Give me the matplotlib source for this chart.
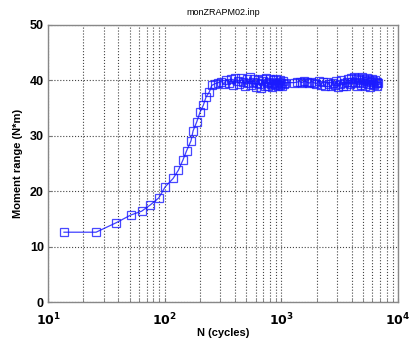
import numpy as np
import matplotlib
matplotlib.use("Agg")
import matplotlib.pyplot as plt
from matplotlib.ticker import LogLocator, FuncFormatter, NullFormatter

plt.rcParams['font.family'] = ['Liberation Sans', 'DejaVu Sans']

# cycles / moment range
cycles_rise = [13.7, 25.8, 38.3, 51.2, 63.5, 75, 89, 101, 118, 131, 143, 154,
               168, 175, 188, 201, 214, 226, 241, 253, 270, 288]
moment_rise = [12.6, 12.6, 14.3, 15.7, 16.4, 17.5, 18.8, 20.8, 22.3, 23.8, 25.6, 27.3,
               29.1, 30.9, 32.5, 34.3, 35.5, 37.0, 37.9, 39.1, 39.4, 39.6]

cycles_p1 = [305, 322, 338, 355, 371, 388, 404, 421, 437, 454, 470, 487, 503, 520,
             536, 553, 569, 586, 602, 619, 635, 652, 668, 685, 701, 718, 734, 751,
             767, 784, 800, 817, 833, 850, 866, 883, 899, 916, 932, 949, 965, 982,
             998, 1015, 1031, 1048, 1065]
moment_p1 = [39.8, 39.4, 40.1, 39.6, 40.3, 39.2, 40.5, 39.9, 39.3, 40.4, 39.7, 38.9,
             40.2, 39.5, 40.6, 39.1, 39.8, 40.3, 38.8, 39.6, 40.1, 39.4, 38.7, 40.2,
             39.9, 39.0, 40.4, 39.5, 38.9, 39.7, 40.2, 39.3, 38.8, 40.0, 39.6, 39.1,
             40.3, 39.4, 38.9, 39.8, 40.1, 39.2, 39.6, 38.9, 39.9, 39.4, 39.6]

cycles_p2 = [1290, 1360, 1430, 1500, 1570, 1650, 1730, 1810, 1900, 1990, 2080,
             2170, 2260, 2350, 2450, 2550, 2650, 2750, 2850, 2950, 3050, 3150,
             3250, 3350, 3450, 3550, 3650, 3750, 3850, 3950, 4050, 4150, 4250,
             4350, 4450, 4550, 4650, 4750, 4850, 4950, 5050, 5150, 5250, 5350,
             5450, 5550, 5650, 5750, 5850, 5950, 6050, 6150, 6250, 6350, 6450,
             6550, 6650, 6750]
moment_p2 = [39.6, 39.7, 39.8, 39.6, 39.9, 39.7, 39.5, 39.8, 39.6, 39.4, 39.9,
             39.2, 39.7, 39.0, 39.8, 39.3, 38.9, 39.6, 39.1, 39.9, 38.8, 39.4,
             40.1, 39.0, 39.6, 38.9, 39.8, 40.2, 39.3, 40.4, 39.7, 40.6, 39.5,
             40.3, 38.9, 40.5, 39.8, 40.1, 39.2, 40.7, 39.6, 40.2, 38.9, 39.9,
             40.4, 39.3, 40.0, 38.8, 39.7, 40.3, 39.4, 39.9, 39.1, 40.1, 39.5,
             38.9, 39.8, 39.6]

cycles = cycles_rise + cycles_p1 + cycles_p2
moment = moment_rise + moment_p1 + moment_p2

fig = plt.figure(figsize=(4.09, 3.52), dpi=100)
ax = fig.add_axes([0.1174, 0.142, 0.856, 0.787])

ax.plot(cycles, moment, '-s', color='#1010ff', lw=0.9, ms=6.3, mfc='none',
        mec='#1a1aff', mew=0.9, alpha=0.8)

ax.set_xscale('log')
ax.set_xlim(10, 1e4)
ax.set_ylim(0, 50)
ax.set_yticks([0, 10, 20, 30, 40, 50])
ax.xaxis.set_major_locator(LogLocator(base=10, numticks=10))
ax.xaxis.set_minor_locator(LogLocator(base=10, subs=np.arange(2, 10), numticks=20))
ax.xaxis.set_minor_formatter(NullFormatter())
ax.xaxis.set_major_formatter(FuncFormatter(
    lambda v, p: r'$\mathbf{10^{%d}}$' % int(round(np.log10(v)))))

ax.grid(True, which='major', axis='both', ls=':', color='#444444', lw=0.8)
ax.grid(True, which='minor', axis='x', ls=':', color='#444444', lw=0.8)
ax.tick_params(which='both', direction='in', length=3, color='#777777')
ax.tick_params(which='minor', length=2)
ax.tick_params(axis='y', labelsize=9, pad=3)
ax.tick_params(axis='x', labelsize=9, pad=7)
for lab in ax.get_yticklabels():
    lab.set_fontweight('bold')
for s in ax.spines.values():
    s.set_color('#888888')
    s.set_linewidth(1.0)

ax.set_title('monZRAPM02.inp', fontsize=6.5, pad=7)
ax.set_xlabel('N (cycles)', fontsize=8, fontweight='bold', labelpad=0)
ax.set_ylabel('Moment range (N*m)', fontsize=8, fontweight='bold', labelpad=5)

fig.savefig('out.png', dpi=100)
